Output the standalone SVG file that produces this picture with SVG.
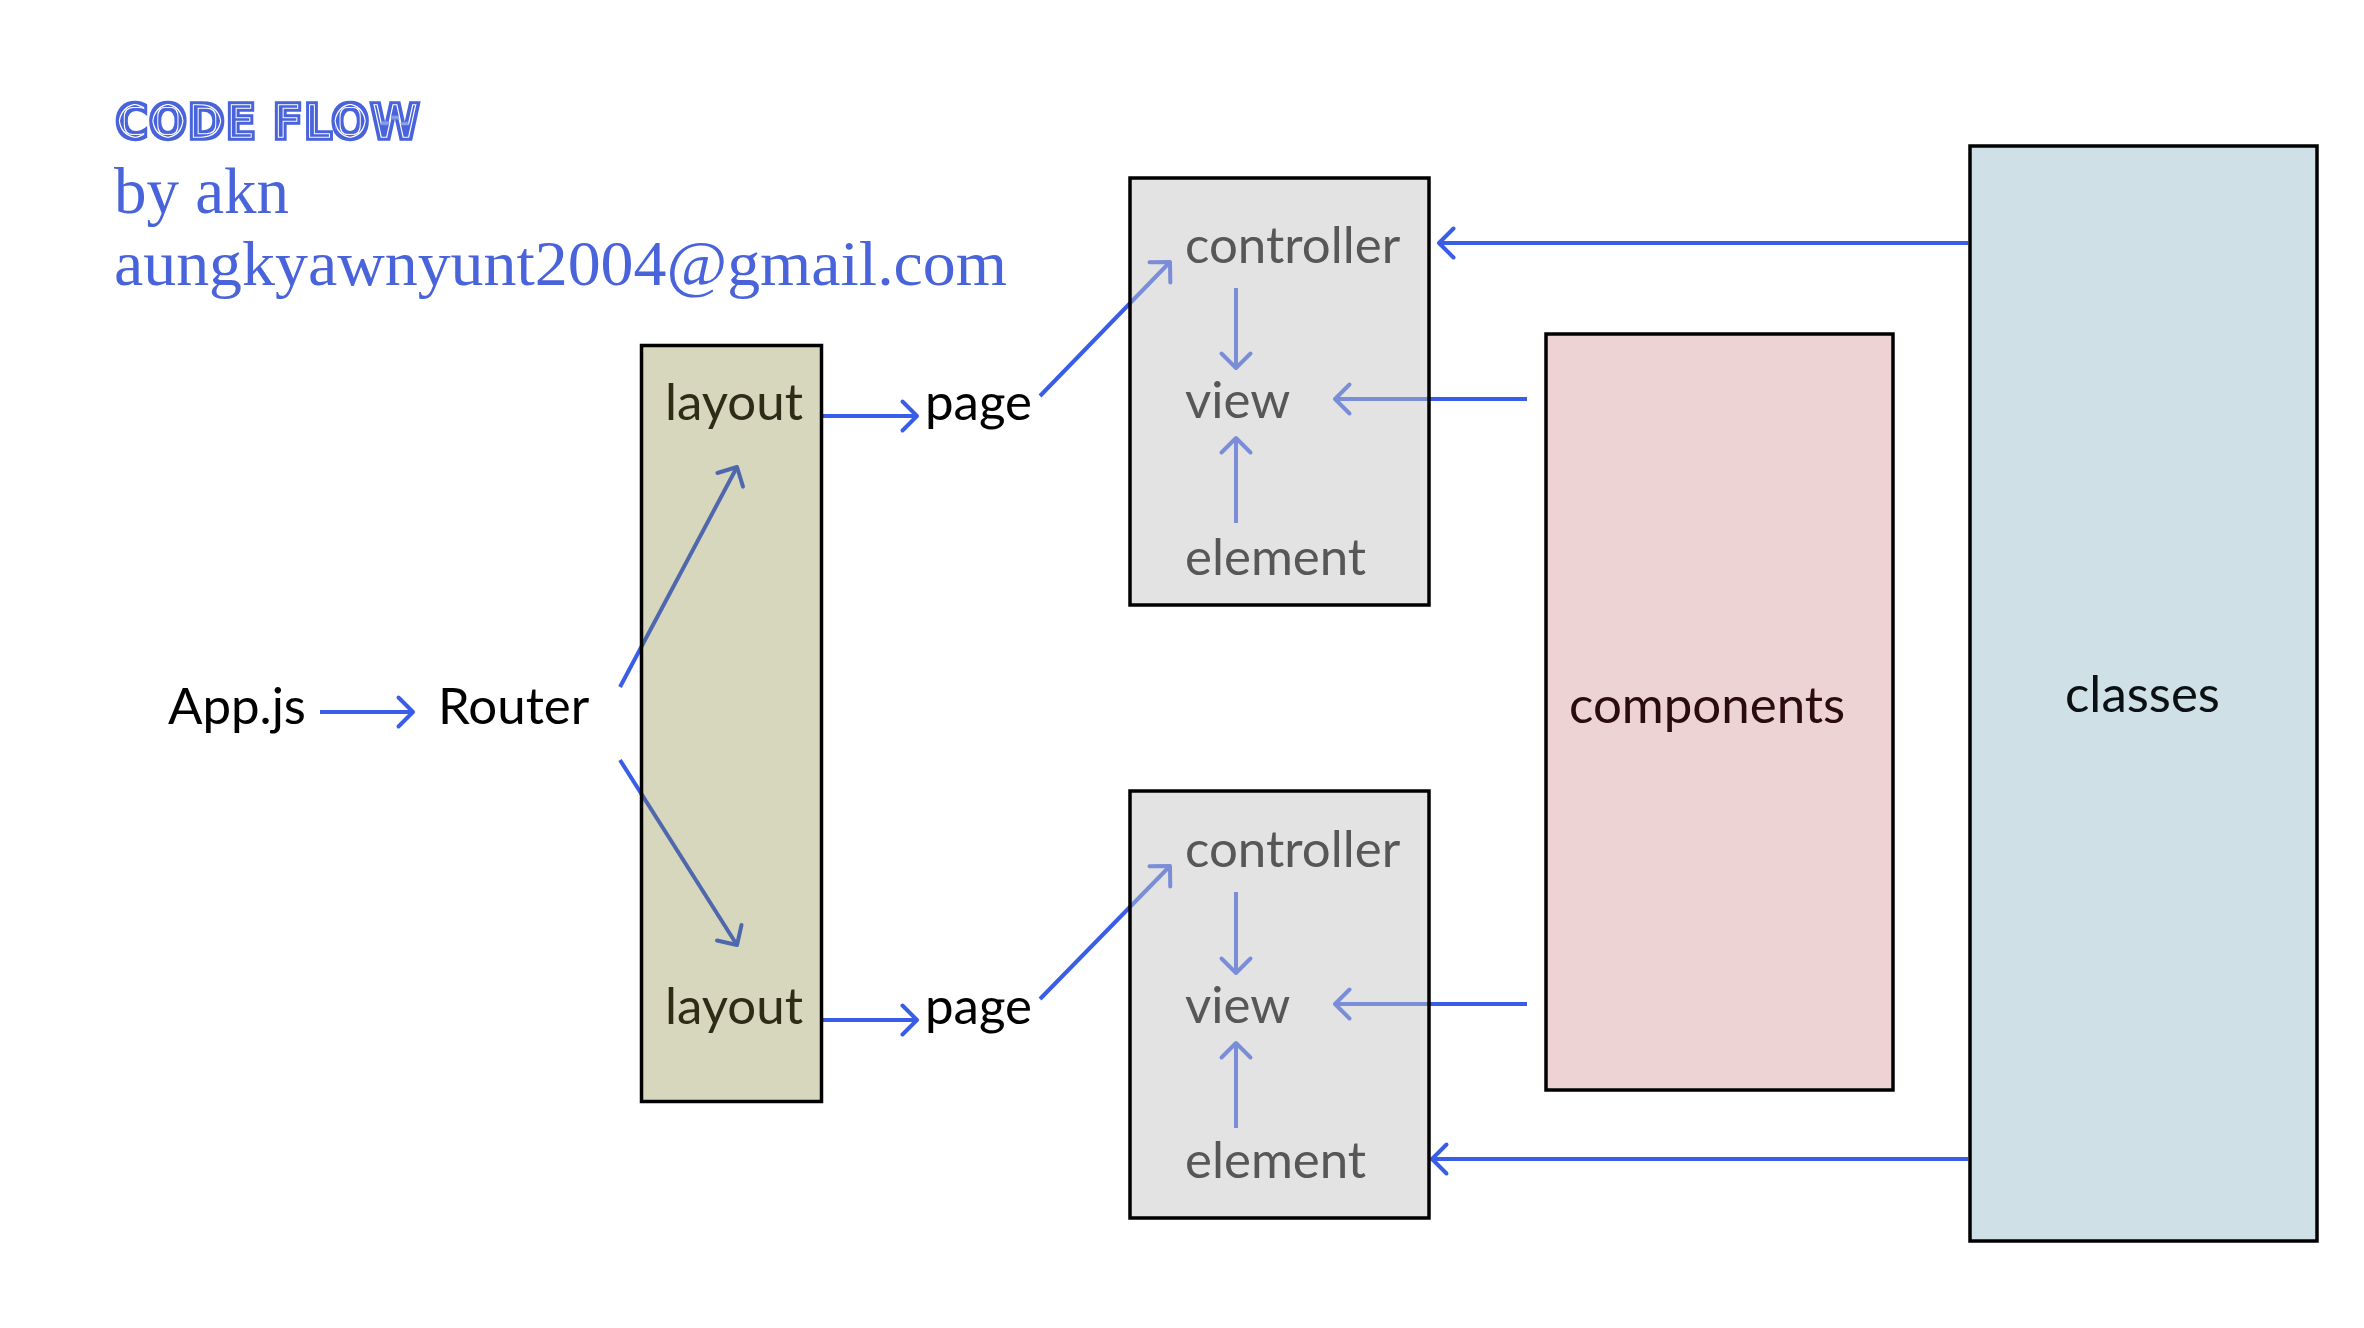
<svg xmlns="http://www.w3.org/2000/svg" width="2364" height="1328" viewBox="0 0 2364 1328">
<defs>
<style>
.lbl{font-family:Lato,"Open Sans","Liberation Sans",sans-serif;font-size:51px}
.conn{fill:none;stroke:#3a5de8;stroke-width:4;marker-end:url(#chev)}
.box{stroke:#000;stroke-width:3.5}
.title{fill:#4963db}
</style>
<marker id="chev" markerUnits="userSpaceOnUse" viewBox="-20 -20 24 40" markerWidth="24" markerHeight="40" refX="0" refY="0" orient="auto" overflow="visible">
<path d="M-14.5,-14.5 L0,0 L-14.5,14.5" fill="none" stroke="#3a5de8" stroke-width="4" stroke-linecap="round" stroke-linejoin="round"/>
</marker>
<filter id="inline" x="-5%" y="-30%" width="110%" height="160%">
<feMorphology in="SourceAlpha" operator="erode" radius="3" result="e2"/>
<feMorphology in="SourceAlpha" operator="erode" radius="4" result="e3"/>
<feComposite in="e2" in2="e3" operator="out" result="ring"/>
<feComposite in="SourceGraphic" in2="ring" operator="out"/>
</filter>
</defs>
<rect width="2364" height="1328" fill="#fff"/>

<g id="title">
<text class="title" x="115" y="139" font-family="'DejaVu Sans',sans-serif" font-weight="bold" font-size="50" stroke="#4963db" stroke-width="3.5" stroke-linejoin="miter" textLength="305" lengthAdjust="spacingAndGlyphs" filter="url(#inline)">CODE FLOW</text>
<text class="title" x="114" y="213" font-family="'Liberation Serif',serif" font-size="65">by akn</text>
<text class="title" x="114" y="285" font-family="'Liberation Serif',serif" font-size="64" textLength="893" lengthAdjust="spacingAndGlyphs">aungkyawnyunt2004@gmail.com</text>
</g>

<g id="connectors">
<path class="conn" d="M320,712 L413,712"/>
<path class="conn" d="M620,687 L737,467"/>
<path class="conn" d="M620,760 L737,945"/>
<path class="conn" d="M823,416 L917,416"/>
<path class="conn" d="M823,1020 L917,1020"/>
<path class="conn" d="M1040,396 L1170,262"/>
<path class="conn" d="M1040,999 L1170,866"/>
<path class="conn" d="M1236,288 L1236,368"/>
<path class="conn" d="M1236,523 L1236,438"/>
<path class="conn" d="M1236,892 L1236,973"/>
<path class="conn" d="M1236,1128 L1236,1043"/>
<path class="conn" d="M1527,399 L1335,399"/>
<path class="conn" d="M1527,1004 L1335,1004"/>
<path class="conn" d="M1968,243 L1439,243"/>
<path class="conn" d="M1968,1159 L1432,1159"/>
</g>

<g id="appjs"><text class="lbl" x="168" y="724" fill="#000">App.js</text></g>
<g id="router"><text class="lbl" x="438" y="724" fill="#000">Router</text></g>

<g id="layouts">
<rect class="box" x="641.5" y="345.5" width="180" height="756" fill="rgb(128,128,45)" fill-opacity="0.315"/>
<text class="lbl" x="665" y="420" fill="#2e2b17">layout</text>
<text class="lbl" x="665" y="1024" fill="#2e2b17">layout</text>
</g>

<g id="page1"><text class="lbl" x="925" y="420" fill="#000">page</text></g>
<g id="page2"><text class="lbl" x="925" y="1024" fill="#000">page</text></g>

<g id="mvc1">
<rect class="box" x="1130" y="178" width="299" height="427" fill="#c3c3c3" fill-opacity="0.47"/>
<text class="lbl" x="1185" y="263" fill="#575757">controller</text>
<text class="lbl" x="1185" y="418" fill="#575757">view</text>
<text class="lbl" x="1185" y="575" fill="#575757">element</text>
</g>

<g id="mvc2">
<rect class="box" x="1130" y="791" width="299" height="427" fill="#c3c3c3" fill-opacity="0.47"/>
<text class="lbl" x="1185" y="867" fill="#575757">controller</text>
<text class="lbl" x="1185" y="1023" fill="#575757">view</text>
<text class="lbl" x="1185" y="1178" fill="#575757">element</text>
</g>

<g id="components">
<rect class="box" x="1546" y="334" width="347" height="756" fill="#eed3d4"/>
<text class="lbl" x="1569" y="723" fill="#2a0c0f">components</text>
</g>

<g id="classes">
<rect class="box" x="1970" y="146" width="347" height="1095" fill="#d0e0e7"/>
<text class="lbl" x="2065" y="712" fill="#0b1013">classes</text>
</g>
</svg>
